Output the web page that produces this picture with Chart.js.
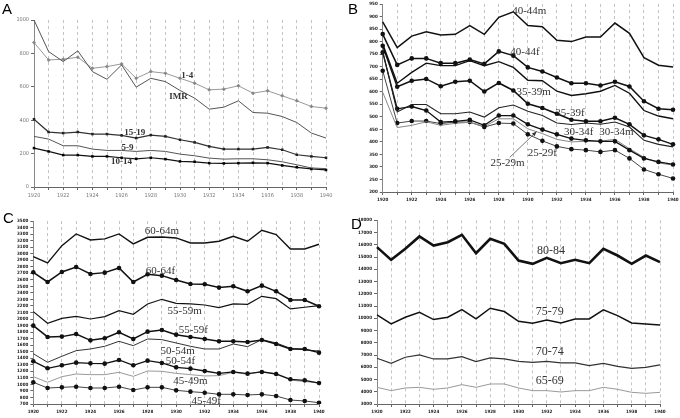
<!DOCTYPE html>
<html>
<head>
<meta charset="utf-8">
<script src="https://cdn.jsdelivr.net/npm/chart.js@4"></script>
<style>
    body { margin: 0; background: #fff; width: 680px; height: 418px; position: relative; overflow: hidden; }
    canvas { position: absolute; }
    .panel-letter { position: absolute; font: 15px "Liberation Sans", Arial, sans-serif; line-height: 1; color: #000; }
</style>
</head>
<body>
<canvas id="chartA" width="340" height="209" style="left:0;top:0"></canvas>
<canvas id="chartB" width="340" height="209" style="left:340px;top:0"></canvas>
<canvas id="chartC" width="340" height="209" style="left:0;top:209px"></canvas>
<canvas id="chartD" width="340" height="209" style="left:340px;top:209px"></canvas>
<div class="panel-letter" style="left:2px;top:1px">A</div>
<div class="panel-letter" style="left:348px;top:1px">B</div>
<div class="panel-letter" style="left:3px;top:210px">C</div>
<div class="panel-letter" style="left:351px;top:216px">D</div>
<script>
const years = ['1920', '1921', '1922', '1923', '1924', '1925', '1926', '1927', '1928', '1929', '1930',
    '1931', '1932', '1933', '1934', '1935', '1936', '1937', '1938', '1939', '1940'];

// Panel A: infants and children
const imr = [1000, 811, 751, 815, 691, 645, 731, 598, 651, 631, 578, 532, 466, 478, 516, 446, 442, 422, 386, 323, 293];
const age1to4 = [865, 761, 765, 777, 711, 721, 737, 651, 691, 681, 651, 622, 582, 586, 606, 562, 576, 546, 516, 482, 472];
const age15to19 = [406, 329, 323, 329, 317, 317, 309, 293, 311, 303, 283, 267, 243, 227, 227, 227, 237, 223, 193, 183, 175];
const age5to9 = [303, 287, 247, 247, 227, 219, 219, 213, 219, 213, 197, 187, 173, 167, 169, 169, 163, 151, 133, 114, 110];
const age10to14 = [233, 213, 191, 191, 183, 183, 175, 169, 175, 167, 153, 151, 143, 141, 143, 145, 143, 129, 118, 108, 102];

// Panel B: 25-44
const m40 = [879, 776, 822, 839, 826, 829, 864, 829, 897, 919, 864, 859, 805, 800, 818, 818, 874, 833, 736, 706, 699];
const f40 = [830, 707, 733, 733, 714, 714, 728, 711, 761, 744, 697, 681, 657, 634, 634, 625, 640, 621, 562, 532, 528];
const m35 = [790, 634, 677, 714, 704, 704, 724, 704, 720, 697, 646, 644, 602, 585, 592, 602, 625, 594, 525, 503, 492];
const f35 = [783, 620, 644, 651, 622, 640, 644, 601, 635, 605, 552, 535, 512, 488, 482, 482, 496, 470, 426, 410, 390];
const m30 = [762, 519, 549, 549, 512, 512, 519, 499, 536, 547, 522, 505, 475, 469, 475, 470, 479, 459, 406, 390, 380];
const f30 = [757, 532, 541, 525, 479, 482, 488, 466, 505, 505, 470, 449, 430, 413, 406, 402, 402, 367, 334, 320, 310];
const m25 = [598, 457, 466, 480, 466, 474, 478, 461, 492, 492, 452, 433, 410, 400, 402, 403, 410, 373, 338, 316, 307];
const f25 = [684, 475, 483, 483, 473, 479, 479, 459, 475, 473, 430, 404, 382, 371, 367, 360, 367, 334, 290, 271, 254];

// Panel C: 45-64
const m60 = [2955, 2858, 3123, 3302, 3210, 3226, 3302, 3149, 3251, 3256, 3241, 3164, 3164, 3190, 3266, 3190, 3358, 3292, 3072, 3072, 3144];
const f60 = [2715, 2567, 2720, 2797, 2690, 2710, 2782, 2567, 2685, 2664, 2598, 2537, 2532, 2481, 2501, 2424, 2511, 2424, 2292, 2292, 2195];
const m55 = [2113, 1935, 2011, 2042, 2001, 2037, 2129, 2072, 2231, 2302, 2241, 2231, 2215, 2174, 2231, 2225, 2348, 2312, 2154, 2180, 2205];
const f55 = [1899, 1726, 1731, 1771, 1674, 1705, 1797, 1695, 1807, 1833, 1761, 1726, 1695, 1659, 1659, 1649, 1680, 1618, 1542, 1542, 1486];
const m50 = [1470, 1338, 1430, 1516, 1542, 1583, 1659, 1593, 1695, 1685, 1634, 1583, 1542, 1542, 1618, 1578, 1685, 1634, 1552, 1527, 1511];
const f50 = [1353, 1246, 1292, 1333, 1322, 1317, 1373, 1292, 1363, 1328, 1261, 1241, 1205, 1169, 1190, 1164, 1190, 1159, 1078, 1062, 1021];
const m45 = [1118, 1032, 1118, 1159, 1149, 1149, 1185, 1123, 1205, 1200, 1169, 1149, 1129, 1134, 1185, 1154, 1200, 1159, 1067, 1042, 1027];
const f45 = [1032, 945, 955, 965, 945, 945, 965, 914, 955, 955, 909, 889, 873, 848, 848, 838, 848, 822, 761, 746, 720];

// Panel D: 65-84
const a80 = [15807, 14771, 15670, 16678, 15943, 16215, 16815, 15316, 16488, 16079, 14716, 14444, 14935, 14499, 14771, 14499, 15670, 15125, 14444, 15125, 14580];
const a75 = [10275, 9540, 10084, 10493, 9894, 10084, 10711, 9948, 10820, 10548, 9757, 9594, 9866, 9621, 9948, 9948, 10684, 10221, 9621, 9540, 9458];
const a70 = [6733, 6324, 6815, 7005, 6678, 6678, 6869, 6460, 6760, 6678, 6488, 6406, 6488, 6351, 6351, 6134, 6324, 6079, 5916, 5997, 6188];
const a65 = [4362, 4090, 4308, 4362, 4199, 4308, 4580, 4362, 4635, 4635, 4308, 4090, 4090, 3981, 4090, 4090, 4362, 4199, 3954, 3872, 3954];

// line labels, placed at (year, value)
const labelsA = [['1-4', 1930.5, 665], ['IMR', 1929.9, 539], ['15-19', 1926.9, 323], ['5-9', 1926.4, 234], ['10-14', 1926.0, 150]];
const labelsB = [['40-44m', 1930.1, 922], ['40-44f', 1929.8, 760], ['35-39m', 1930.4, 597], ['35-39f', 1932.9, 513],
    ['30-34f', 1933.5, 438], ['30-34m', 1936.1, 438], ['25-29f', 1931.0, 355], ['25-29m', 1928.6, 315]];
const labelsC = [['60-64m', 1929.0, 3349], ['60-64f', 1928.9, 2737], ['55-59m', 1930.6, 2124], ['55-59f', 1931.2, 1833],
    ['50-54m', 1930.1, 1512], ['50-54f', 1930.3, 1358], ['45-49m', 1931.0, 1052], ['45-49f', 1932.1, 746]];
const labelsD = [['80-84', 1932.3, 15480], ['75-79', 1932.2, 10493], ['70-74', 1932.2, 7278], ['65-69', 1932.2, 4907]];
const arrowB = [[1928.75, 338], [1930.6, 441]];

const lineLabelPlugin = {
    id: 'lineLabels',
    afterDatasetsDraw(chart, args, opts) {
        const ctx = chart.ctx;
        const xs = chart.scales.x, ys = chart.scales.y;
        const px = yr => xs.getPixelForValue(yr - Number(years[0]));
        ctx.save();
        ctx.font = opts.font;
        ctx.fillStyle = opts.color;
        ctx.textAlign = 'center';
        ctx.textBaseline = 'middle';
        (opts.items || []).forEach(l => ctx.fillText(l[0], px(l[1]), ys.getPixelForValue(l[2])));
        if (opts.arrow) {
            const [a, b] = opts.arrow;
            const x1 = px(a[0]), y1 = ys.getPixelForValue(a[1]);
            const x2 = px(b[0]), y2 = ys.getPixelForValue(b[1]);
            const ang = Math.atan2(y2 - y1, x2 - x1);
            ctx.strokeStyle = '#555';
            ctx.lineWidth = 0.8;
            ctx.beginPath();
            ctx.moveTo(x1, y1);
            ctx.lineTo(x2, y2);
            ctx.stroke();
            ctx.fillStyle = '#333';
            ctx.beginPath();
            ctx.moveTo(x2, y2);
            ctx.lineTo(x2 - 5 * Math.cos(ang - 0.4), y2 - 5 * Math.sin(ang - 0.4));
            ctx.lineTo(x2 - 5 * Math.cos(ang + 0.4), y2 - 5 * Math.sin(ang + 0.4));
            ctx.closePath();
            ctx.fill();
        }
        ctx.restore();
    }
};

function series(data, color, width, marker, markerStyle, markerColor) {
    return {
        data: data,
        borderColor: color,
        borderWidth: width,
        pointRadius: marker || 0,
        pointStyle: markerStyle || 'circle',
        pointBackgroundColor: markerColor || color,
        pointBorderWidth: 0,
        tension: 0,
        fill: false
    };
}

function makePanel(id, datasets, y, box, tickFont, tickColor, labels) {
    new Chart(document.getElementById(id), {
        type: 'line',
        data: { labels: years, datasets: datasets },
        options: {
            responsive: false,
            animation: false,
            devicePixelRatio: 1,
            layout: { padding: { left: 0, right: box.right, top: box.top, bottom: 0 } },
            plugins: { legend: { display: false }, tooltip: { enabled: false }, lineLabels: labels },
            scales: {
                x: {
                    grid: { color: '#c4c4c4', lineWidth: 1, tickColor: '#666', tickLength: 3 },
                    border: { color: '#666', width: 1, dash: [3, 3] },
                    ticks: {
                        autoSkip: false, maxRotation: 0, padding: 2, font: tickFont, color: tickColor,
                        callback: function (v, i) { return i % 2 === 0 ? this.getLabelForValue(v) : ''; }
                    },
                    afterFit(s) { s.height = box.xh; s.paddingLeft = 0; s.paddingRight = 0; }
                },
                y: {
                    min: y.min, max: y.max,
                    grid: { drawOnChartArea: false, tickColor: '#666', tickLength: 3 },
                    border: { color: '#888', width: 1 },
                    ticks: {
                        stepSize: y.step, autoSkip: false, padding: 2, font: tickFont, color: tickColor,
                        callback: v => String(v)
                    },
                    afterFit(s) { s.width = box.yw; s.paddingTop = 0; s.paddingBottom = 0; }
                }
            }
        },
        plugins: [lineLabelPlugin]
    });
}

const smallBold = { family: '"DejaVu Sans Condensed", "DejaVu Sans"', size: 4.5, weight: 'bold' };
const labelFont = '11px "Liberation Serif", "DejaVu Serif", serif';

// Chart A
makePanel('chartA', [
    series(imr, '#555', 1),
    series(age1to4, '#999', 1, 2, 'rectRot', '#888'),
    series(age15to19, '#333', 1.2, 1.8, 'rect', '#222'),
    series(age5to9, '#555', 1),
    series(age10to14, '#111', 1.2, 1.8, 'rect', '#000')
], { min: 0, max: 1000, step: 200 }, { yw: 34, right: 14, top: 20, xh: 22 },
    { family: '"DejaVu Sans Condensed", "DejaVu Sans"', size: 5.5 }, '#777',
    { items: labelsA, font: 'bold 9px "Liberation Serif", serif', color: '#333' });

// Chart B
makePanel('chartB', [
    series(m40, '#111', 1.5),
    series(f40, '#111', 1.5, 2.3),
    series(m35, '#111', 1.4),
    series(f35, '#111', 1.5, 2.3),
    series(m30, '#222', 1.1),
    series(f30, '#111', 1.3, 2.3),
    series(m25, '#888', 1),
    series(f25, '#444', 1, 2.3, 'circle', '#111')
], { min: 200, max: 950, step: 50 }, { yw: 42.7, right: 7, top: 3, xh: 17 },
    smallBold, '#222',
    { items: labelsB, font: labelFont, color: '#333', arrow: arrowB });

// Chart C
makePanel('chartC', [
    series(m60, '#111', 1.4),
    series(f60, '#111', 1.5, 2.3),
    series(m55, '#111', 1.2),
    series(f55, '#111', 1.5, 2.3),
    series(m50, '#333', 1),
    series(f50, '#111', 1.3, 2.3),
    series(m45, '#999', 1),
    series(f45, '#444', 1, 2.3, 'circle', '#111')
], { min: 700, max: 3500, step: 100 }, { yw: 33.3, right: 21, top: 12, xh: 14 },
    smallBold, '#222',
    { items: labelsC, font: labelFont, color: '#333' });

// Chart D
makePanel('chartD', [
    series(a80, '#111', 2.6),
    series(a75, '#111', 1.5),
    series(a70, '#333', 1.2),
    series(a65, '#999', 1)
], { min: 3000, max: 18000, step: 1000 }, { yw: 37, right: 20, top: 11.3, xh: 14 },
    smallBold, '#222',
    { items: labelsD, font: '12px "Liberation Serif", "DejaVu Serif", serif', color: '#333' });
</script>
</body>
</html>
